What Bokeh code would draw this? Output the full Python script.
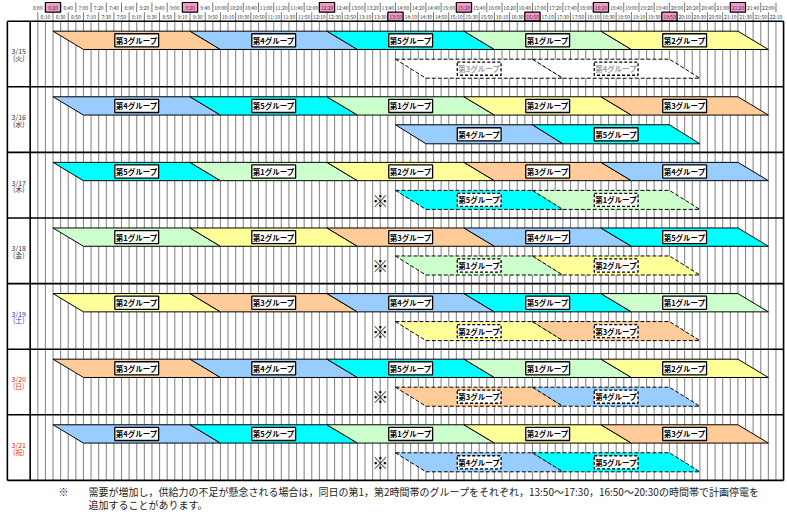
import numpy as np
from bokeh.plotting import figure
from bokeh.models import Range1d
from bokeh.embed import file_html
from bokeh.resources import INLINE
from bokeh.core.properties import value

# ---------------- data ----------------
days = ["3/15", "3/16", "3/17", "3/18", "3/19", "3/20", "3/21"]
weekdays = ["(火)", "(水)", "(木)", "(金)", "(土)", "(日)", "(祝)"]
main_groups = [
    [3, 4, 5, 1, 2],
    [4, 5, 1, 2, 3],
    [5, 1, 2, 3, 4],
    [1, 2, 3, 4, 5],
    [2, 3, 4, 5, 1],
    [3, 4, 5, 1, 2],
    [4, 5, 1, 2, 3],
]
extra_groups = [[3, 4], [4, 5], [5, 1], [1, 2], [2, 3], [3, 4], [4, 5]]
extra_status = ["cancelled", "confirmed", "possible", "possible", "possible", "possible", "possible"]
band_start = ["6:20", "9:20", "12:20", "15:20", "18:20"]
band_end = ["10:00", "13:00", "16:00", "19:00", "22:00"]
extra_start = ["13:50", "16:50"]
extra_end = ["17:30", "20:30"]
overlap_minutes = 40
highlight_upper = ["6:20", "9:20", "12:20", "15:20", "18:20", "21:20"]
highlight_lower = ["13:50", "16:50", "19:50"]
header_times = [f"{h}:{m:02d}" for h in range(6, 23) for m in range(0, 60, 10)][:98]
footnote_mark = "※"
footnote_line1 = "需要が増加し，供給力の不足が懸念される場合は，同日の第1，第2時間帯のグループをそれぞれ，13:50～17:30，16:50～20:30の時間帯で計画停電を"
footnote_line2 = "追加することがあります。"

# ---------------- styles ----------------
group_colors = {1: "#CCFFCC", 2: "#FFFF99", 3: "#FFCC99", 4: "#99CCFF", 5: "#00FFFF"}
date_colors = ["#333333", "#333333", "#333333", "#333333", "#2B3A9C", "#D02828", "#D02828"]
wday_colors = ["#333333", "#333333", "#333333", "#333333", "#1F46E0", "#FF2A2A", "#FF2A2A"]
FONT = value("Noto Sans CJK JP")


def hm(s):
    h, m = s.split(":")
    return int(h) + int(m) / 60.0


OV = overlap_minutes / 60.0
SLOT = 1 / 6.0
MAIN_TOP, MAIN_BOT = 0.152, 0.431
EXTRA_TOP, EXTRA_BOT = 0.579, 0.869
TABLE_L, LABEL_R, TABLE_R = hm("5:20"), hm("5:50"), hm("22:20")
NROWS = len(days)

p = figure(width=787, height=514,
           x_range=Range1d(5.1831, 22.4194), y_range=Range1d(7.5198, -0.3155),
           output_backend="svg", toolbar_location=None, min_border=0,
           x_axis_location=None, y_axis_location=None, outline_line_color=None)
p.grid.visible = False
p.background_fill_color = "white"
p.border_fill_color = "white"

slots = np.array([hm(t) for t in header_times])

# body grid lines
p.segment(x0=slots, y0=np.zeros_like(slots), x1=slots, y1=np.full_like(slots, NROWS),
          line_color="#8A8A8A", line_width=1.1)

# header separators
UP_T, UP_B, LO_B = -0.285, -0.137, 0.0
odd = slots[1::2]
even = slots[0::2]
p.segment(x0=odd, y0=np.full_like(odd, UP_T), x1=odd, y1=np.full_like(odd, UP_B),
          line_color="#777777", line_width=1)
p.segment(x0=even, y0=np.full_like(even, UP_B), x1=even, y1=np.full_like(even, LO_B),
          line_color="#777777", line_width=1)

# pink highlight boxes
hu = np.array([hm(t) for t in highlight_upper])
hl = np.array([hm(t) for t in highlight_lower])
p.quad(left=hu - SLOT, right=hu + SLOT, top=np.full_like(hu, UP_T), bottom=np.full_like(hu, UP_B),
       fill_color="#F59AC8", line_color="black", line_width=1.2)
p.quad(left=hl - SLOT, right=hl + SLOT, top=np.full_like(hl, UP_B), bottom=np.full_like(hl, LO_B),
       fill_color="#F59AC8", line_color="black", line_width=1.2)

# header labels
up_lbl = header_times[0::2]
lo_lbl = header_times[1::2]
p.text(x=even, y=np.full_like(even, -0.209), text=up_lbl, text_font=FONT, text_font_size="5px",
       text_align="center", text_baseline="middle", text_color="#333333")
p.text(x=odd, y=np.full_like(odd, -0.066), text=lo_lbl, text_font=FONT, text_font_size="5px",
       text_align="center", text_baseline="middle", text_color="#333333")


def para(s, e, top, bot):
    return [s, e - OV, e, s + OV], [top, top, bot, bot]


# main bands
mxs, mys, mfill, lab_x, lab_y, lab_t = [], [], [], [], [], []
for i, groups in enumerate(main_groups):
    for j, g in enumerate(groups):
        s, e = hm(band_start[j]), hm(band_end[j])
        xx, yy = para(s, e, i + MAIN_TOP, i + MAIN_BOT)
        mxs.append(xx); mys.append(yy); mfill.append(group_colors[g])
        lab_x.append((s + e) / 2); lab_y.append(i + (MAIN_TOP + MAIN_BOT) / 2)
        lab_t.append(f"第{g}グループ")
p.patches(xs=mxs, ys=mys, fill_color=mfill, line_color="black", line_width=1)

# extra bands
ex = {"cancelled": ([], [], [], [], [], []), "confirmed": ([], [], [], [], [], []),
      "possible": ([], [], [], [], [], [])}
marks_x, marks_y = [], []
for i, groups in enumerate(extra_groups):
    st = extra_status[i]
    for j, g in enumerate(groups):
        s, e = hm(extra_start[j]), hm(extra_end[j])
        xx, yy = para(s, e, i + EXTRA_TOP, i + EXTRA_BOT)
        b = ex[st]
        b[0].append(xx); b[1].append(yy)
        b[2].append("white" if st == "cancelled" else group_colors[g])
        b[3].append((s + e) / 2); b[4].append(i + (EXTRA_TOP + EXTRA_BOT) / 2)
        b[5].append(f"第{g}グループ")
    if st == "possible":
        marks_x.append(hm("13:30")); marks_y.append(i + 0.72)

for st, b in ex.items():
    dash = "solid" if st == "confirmed" else "4 2"
    p.patches(xs=b[0], ys=b[1], fill_color=b[2], line_color="black", line_width=1, line_dash=dash)

# table borders
rows = np.arange(0, NROWS + 1)
p.segment(x0=np.full(len(rows), TABLE_L), y0=rows, x1=np.full(len(rows), TABLE_R), y1=rows,
          line_color="black", line_width=1.6)
vb = np.array([TABLE_L, LABEL_R, TABLE_R])
p.segment(x0=vb, y0=np.zeros(3), x1=vb, y1=np.full(3, NROWS), line_color="black", line_width=1.6)

# label boxes
BOX_W, BOX_H = 0.96, 0.2
p.rect(x=lab_x, y=lab_y, width=BOX_W, height=BOX_H, fill_color="white", line_color="black", line_width=1.3)
p.text(x=lab_x, y=lab_y, text=lab_t, text_font=FONT, text_font_size="7.5px", text_font_style="bold",
       text_align="center", text_baseline="middle", text_color="black")
for st, b in ex.items():
    dash = "solid" if st == "confirmed" else "3 2"
    p.rect(x=b[3], y=b[4], width=BOX_W, height=BOX_H, fill_color="white", line_color="black",
           line_width=1.3, line_dash=dash)
    p.text(x=b[3], y=b[4], text=b[5], text_font=FONT, text_font_size="7.5px", text_font_style="bold",
           text_align="center", text_baseline="middle",
           text_color="#A0A0A0" if st == "cancelled" else "black")

# ※ marks
p.text(x=marks_x, y=marks_y, text=[footnote_mark] * len(marks_x), text_font=FONT, text_font_size="16px",
       text_font_style="bold", text_align="center", text_baseline="middle", text_color="black")

# day labels
dcx = (TABLE_L + LABEL_R) / 2
ri = np.arange(NROWS)
p.text(x=np.full(NROWS, dcx), y=ri + 0.46, text=days, text_font=FONT, text_font_size="7px",
       text_align="center", text_baseline="middle", text_color=date_colors)
p.text(x=np.full(NROWS, dcx), y=ri + 0.56, text=weekdays, text_font=FONT, text_font_size="7px",
       text_align="center", text_baseline="middle", text_color=wday_colors)

# footnote
p.text(x=[6.563], y=[7.169], text=[footnote_mark], text_font=FONT, text_font_size="10px",
       text_align="center", text_baseline="middle", text_color="#222222")
p.text(x=[7.11, 7.11], y=[7.169, 7.367], text=[footnote_line1, footnote_line2], text_font=FONT,
       text_font_size="10px", text_align="left", text_baseline="middle", text_color="#222222")

open("out.html", "w").write(file_html(p, INLINE))
